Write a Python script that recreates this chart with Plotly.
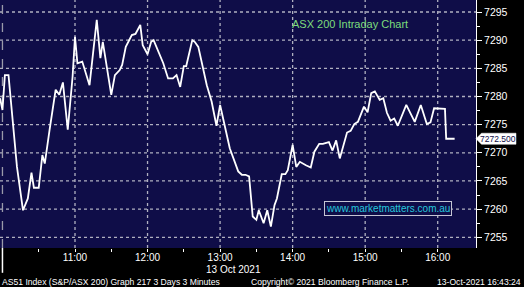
import plotly.graph_objects as go

DAY = "2021-10-13"

# (time, value) readings of the 3-minute intraday line
times = [
    "09:58", "10:00", "10:02", "10:05", "10:12", "10:17", "10:21", "10:24", "10:26", "10:30",
    "10:33", "10:35", "10:39", "10:44", "10:47", "10:50", "10:54", "10:56", "10:58", "11:00",
    "11:02", "11:06", "11:12", "11:18", "11:21", "11:23", "11:27", "11:30", "11:33", "11:37",
    "11:39", "11:42", "11:47", "11:50", "11:54", "11:56", "12:00", "12:03", "12:05", "12:13",
    "12:17", "12:21", "12:24", "12:27", "12:30", "12:32", "12:37", "12:39", "12:42", "12:46",
    "12:49", "12:53", "12:57", "13:00", "13:04", "13:08", "13:15", "13:18", "13:21", "13:24",
    "13:27", "13:30", "13:32", "13:36", "13:39", "13:42", "13:45", "13:47", "13:51", "13:54",
    "13:56", "14:00", "14:03", "14:06", "14:11", "14:15", "14:18", "14:22", "14:25", "14:30",
    "14:33", "14:36", "14:39", "14:45", "14:48", "14:51", "14:54", "14:59", "15:02", "15:05",
    "15:08", "15:12", "15:15", "15:18", "15:21", "15:24", "15:27", "15:34", "15:41", "15:46",
    "15:51", "15:54", "15:57", "16:06", "16:07", "16:14",
]
values = [
    7279.7, 7277.6, 7283.8, 7283.8, 7267.5, 7259.8, 7261.9, 7266.5, 7263.8, 7263.8,
    7269.6, 7268.1, 7274.1, 7281.2, 7280.3, 7282.5, 7274.1, 7279.4, 7283.5, 7290.6,
    7285.9, 7286.2, 7282.0, 7293.6, 7286.8, 7289.7, 7284.4, 7280.3, 7283.8, 7284.7,
    7285.6, 7288.8, 7290.9, 7291.1, 7292.7, 7289.1, 7287.5, 7289.7, 7290.0, 7285.9,
    7283.2, 7283.2, 7283.8, 7281.7, 7285.4, 7285.4, 7290.0, 7289.7, 7288.8, 7285.0,
    7282.0, 7279.1, 7274.8, 7278.5, 7274.6, 7270.8, 7266.7, 7266.1, 7266.1, 7265.8,
    7258.7, 7258.1, 7259.8, 7257.5, 7259.8, 7256.9, 7260.7, 7261.9, 7266.2, 7266.2,
    7266.9, 7271.4, 7267.5, 7268.4, 7267.8, 7267.4, 7270.2, 7271.6, 7271.6, 7271.9,
    7270.4, 7272.2, 7269.0, 7273.6, 7273.9, 7275.1, 7275.5, 7278.2, 7277.2, 7280.6,
    7280.9, 7279.4, 7279.7, 7277.1, 7275.7, 7276.1, 7274.8, 7278.5, 7275.5, 7278.5,
    7275.1, 7275.4, 7277.9, 7277.8, 7272.5, 7272.5,
]

x_tick_times = ["11:00", "12:00", "13:00", "14:00", "15:00", "16:00"]
x_tick_labels = ["11:00", "12:00", "13:00", "14:00", "15:00", "16:00"]
x_minor_times = ["10:30", "11:30", "12:30", "13:30", "14:30", "15:30"]
y_ticks = [7255, 7260, 7265, 7270, 7275, 7280, 7285, 7290, 7295]
last_value = 7272.5
last_label = "7272.500"

title_text = "ASX 200 Intraday Chart"
site_text = "www.marketmatters.com.au"
date_text = "13 Oct 2021"
footer_left = "AS51 Index (S&P/ASX 200) Graph 217 3 Days 3 Minutes"
footer_mid = "Copyright\u00a9 2021 Bloomberg Finance L.P."
footer_right = "13-Oct-2021 16:43:24"

NAVY = "#0f0d48"
GRID = "#b0b0c0"
FONT = "Arial"

x = [f"{DAY} {t}" for t in times]

fig = go.Figure()
fig.add_trace(go.Scatter(x=x, y=values, mode="lines",
                         line=dict(color="white", width=1.8), hoverinfo="skip"))

fig.update_layout(
    width=524, height=287,
    margin=dict(l=0, r=48, t=0, b=39),
    paper_bgcolor="black", plot_bgcolor=NAVY,
    showlegend=False,
    font=dict(family=FONT, color="white", size=10),
)

fig.update_xaxes(
    type="date",
    range=[f"{DAY} 09:57:58", f"{DAY} 16:31:40"],
    tickvals=[f"{DAY} {t}" for t in x_tick_times],
    ticktext=x_tick_labels,
    ticks="outside", ticklen=3, tickcolor="white",
    ticklabelstandoff=-3,
    tickfont=dict(size=10, color="white", family=FONT),
    showgrid=False,
    minor=dict(tickvals=[f"{DAY} {t}" for t in x_minor_times],
               ticks="outside", ticklen=3, tickcolor="white", showgrid=False),
    showline=False, zeroline=False,
)

fig.update_yaxes(
    side="right",
    range=[7253.10, 7297.13],
    tickvals=y_ticks,
    ticks="outside", ticklen=5, tickcolor="white",
    tickfont=dict(size=10.5, color="white", family=FONT),
    showgrid=False,
    minor=dict(dtick=2.5, tick0=7252.5, ticks="outside", ticklen=3, tickcolor="white", showgrid=False),
    showline=True, linecolor="white", linewidth=1, zeroline=False,
)

# dotted grid drawn as shapes at the tick positions
for t in x_tick_times:
    fig.add_shape(type="line", xref="x", yref="paper", x0=f"{DAY} {t}", x1=f"{DAY} {t}",
                  y0=0, y1=1, line=dict(color=GRID, width=1.3, dash="dot"), layer="below")
for v in y_ticks:
    fig.add_shape(type="line", xref="paper", yref="y", x0=0, x1=1, y0=v, y1=v,
                  line=dict(color=GRID, width=1.3, dash="dot"), layer="below")

# session open marker
fig.add_shape(type="line", xref="x", yref="paper", x0=f"{DAY} 10:00", x1=f"{DAY} 10:00",
              y0=0, y1=1, line=dict(color="#9a9aaa", width=1.3, dash="dash"), layer="below")
fig.add_shape(type="line", xref="x", yref="paper", x0=f"{DAY} 10:00", x1=f"{DAY} 10:00",
              y0=0, y1=-0.10, line=dict(color="white", width=1.5))

# last value tag
fig.add_shape(type="path", xref="paper", yref="y",
              path=f"M 1.0,{last_value} L 1.0115,{last_value + 0.98} L 1.084,{last_value + 0.98} "
                   f"L 1.084,{last_value - 0.98} L 1.0115,{last_value - 0.98} Z",
              fillcolor="white", line=dict(color="white", width=0.5), layer="above")
fig.add_annotation(xref="paper", yref="y", x=1.047, y=last_value, text=last_label,
                   showarrow=False, xanchor="center", yanchor="middle",
                   font=dict(size=8.5, color=NAVY, family=FONT))

fig.add_annotation(xref="paper", yref="paper", x=349.5 / 476, y=1 - 24 / 248, text=title_text,
                   showarrow=False, xanchor="center", yanchor="middle",
                   font=dict(size=11, color="#7cdc7c", family=FONT))
fig.add_annotation(xref="paper", yref="paper", x=388 / 476, y=1 - 208 / 248, text=site_text,
                   showarrow=False, xanchor="center", yanchor="middle",
                   bordercolor="#c4c4d4", borderwidth=1, borderpad=1, bgcolor=NAVY,
                   font=dict(size=10, color="#26c6dc", family=FONT))
fig.add_annotation(xref="paper", yref="paper", x=233 / 476, y=-21 / 248, text=date_text,
                   showarrow=False, xanchor="center", yanchor="middle",
                   font=dict(size=10, color="white", family=FONT))
fig.add_annotation(xref="paper", yref="paper", x=0, y=-33.5 / 248, text=footer_left,
                   showarrow=False, xanchor="left", yanchor="middle",
                   font=dict(size=8.6, color="white", family=FONT))
fig.add_annotation(xref="paper", yref="paper", x=249 / 476, y=-33.5 / 248, text=footer_mid,
                   showarrow=False, xanchor="left", yanchor="middle",
                   font=dict(size=8.6, color="white", family=FONT))
fig.add_annotation(xref="paper", yref="paper", x=523 / 476, y=-33.5 / 248, text=footer_right,
                   showarrow=False, xanchor="right", yanchor="middle",
                   font=dict(size=8.6, color="white", family=FONT))

fig.write_html("out.html")
